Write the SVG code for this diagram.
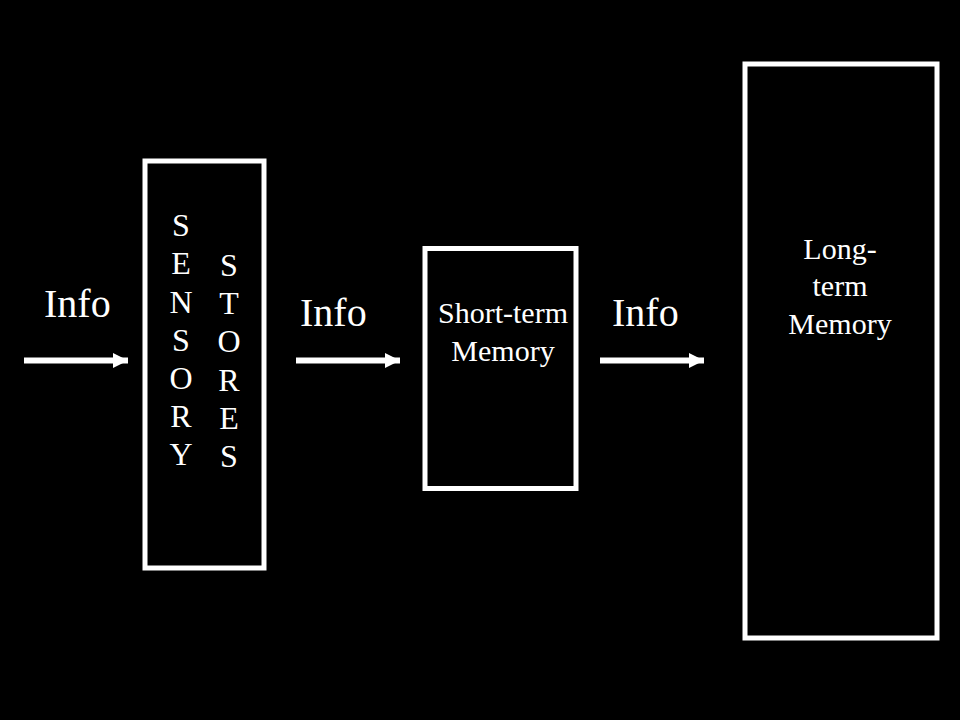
<svg xmlns="http://www.w3.org/2000/svg" width="960" height="720" viewBox="0 0 960 720">
<defs>
<style>
.box{fill:#000;stroke:#fff;stroke-width:5}
.t{font-family:"Liberation Serif","Times New Roman",serif;fill:#fff}
.info{font-size:40px}
.lab{font-size:30px;text-anchor:middle}
.let{font-size:32px;text-anchor:middle}
.arr{stroke:#fff;stroke-width:6;fill:none}
</style>
<marker id="ah" markerUnits="userSpaceOnUse" markerWidth="15" markerHeight="15" viewBox="0 0 15 15" refX="15" refY="7.5" orient="auto">
<path d="M0,0 L15,7.5 L0,15 Z" fill="#fff"/>
</marker>
</defs>
<rect width="960" height="720" fill="#000"/>
<g id="sensory">
<rect class="box" x="145" y="161" width="119" height="407"/>
<text class="t let" x="181" y="236">S</text>
<text class="t let" x="181" y="274">E</text>
<text class="t let" x="181" y="313">N</text>
<text class="t let" x="181" y="351">S</text>
<text class="t let" x="181" y="389">O</text>
<text class="t let" x="181" y="427">R</text>
<text class="t let" x="181" y="465">Y</text>
<text class="t let" x="229" y="276">S</text>
<text class="t let" x="229" y="314">T</text>
<text class="t let" x="229" y="352">O</text>
<text class="t let" x="229" y="391">R</text>
<text class="t let" x="229" y="429">E</text>
<text class="t let" x="229" y="467">S</text>
</g>
<g id="short-term">
<rect class="box" x="425" y="248.5" width="151" height="240"/>
<text class="t lab" x="503" y="323">Short-term</text>
<text class="t lab" x="503" y="361">Memory</text>
</g>
<g id="long-term">
<rect class="box" x="745" y="64" width="192" height="574"/>
<text class="t lab" x="840" y="259">Long-</text>
<text class="t lab" x="840" y="296">term</text>
<text class="t lab" x="840" y="334">Memory</text>
</g>
<g id="connectors">
<line class="arr" x1="24" y1="360.5" x2="128" y2="360.5" marker-end="url(#ah)"/>
<line class="arr" x1="296" y1="360.5" x2="400" y2="360.5" marker-end="url(#ah)"/>
<line class="arr" x1="600" y1="360.5" x2="704" y2="360.5" marker-end="url(#ah)"/>
<text class="t info" x="44" y="317">Info</text>
<text class="t info" x="300" y="326">Info</text>
<text class="t info" x="612" y="326">Info</text>
</g>
</svg>
